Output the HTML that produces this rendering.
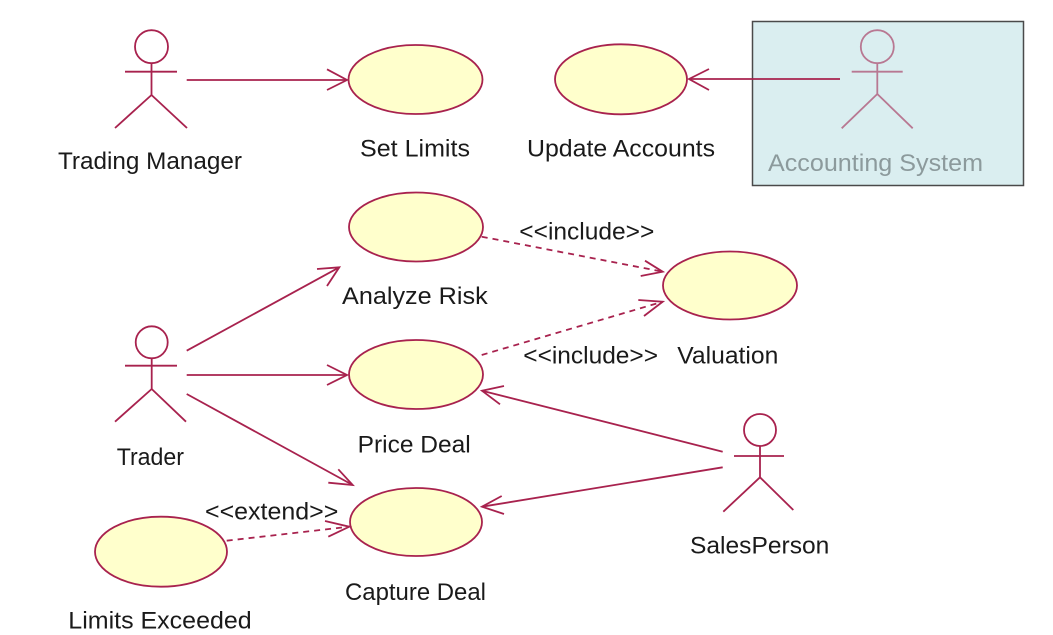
<!DOCTYPE html>
<html><head><meta charset="utf-8"><style>
html,body{margin:0;padding:0;background:#fff;}
svg{display:block;}
text{font-family:"Liberation Sans",Arial,sans-serif;font-size:24px;fill:#1a1a1a;}
</style></head><body>
<svg width="1053" height="635" viewBox="0 0 1053 635" xmlns="http://www.w3.org/2000/svg">
<rect x="0" y="0" width="1053" height="635" fill="#fff"/>
<!-- Accounting System box -->
<rect x="752.5" y="21.5" width="271" height="164" fill="#daeef0" stroke="#4a4a4a" stroke-width="1.5"/>

<g fill="#ffffcc" stroke="#a8224e" stroke-width="1.8">
<ellipse cx="415.5" cy="79.5" rx="67" ry="34.5"/>
<ellipse cx="621" cy="79.3" rx="66" ry="35"/>
<ellipse cx="416" cy="227" rx="67" ry="34.5"/>
<ellipse cx="730" cy="285.5" rx="67" ry="34"/>
<ellipse cx="416" cy="374.5" rx="67" ry="34.5"/>
<ellipse cx="416" cy="522" rx="66" ry="34"/>
<ellipse cx="161" cy="551.7" rx="66" ry="35"/>
</g>

<!-- actors -->
<g fill="none" stroke="#a8224e" stroke-width="1.8">
<!-- Trading Manager -->
<circle cx="151.5" cy="46.7" r="16.5"/>
<line x1="125" y1="71.7" x2="177" y2="71.7"/>
<line x1="151.5" y1="63" x2="151.5" y2="95"/>
<line x1="151.5" y1="95" x2="115" y2="128"/>
<line x1="151.5" y1="95" x2="187" y2="128"/>
<!-- Trader -->
<circle cx="151.7" cy="342.3" r="16"/>
<line x1="125" y1="365.7" x2="177" y2="365.7"/>
<line x1="151.7" y1="358" x2="151.7" y2="389"/>
<line x1="151.7" y1="389" x2="115" y2="421.7"/>
<line x1="151.7" y1="389" x2="186" y2="421.7"/>
<!-- SalesPerson -->
<circle cx="760" cy="430" r="16"/>
<line x1="734" y1="456" x2="784" y2="456"/>
<line x1="760" y1="446" x2="760" y2="477.3"/>
<line x1="760" y1="477.3" x2="723.3" y2="511.7"/>
<line x1="760" y1="477.3" x2="793.3" y2="510"/>
</g>
<!-- Accounting System actor (faded) -->
<g fill="none" stroke="#b87892" stroke-width="1.8">
<circle cx="877.3" cy="46.7" r="16.5"/>
<line x1="851.7" y1="71.7" x2="902.7" y2="71.7"/>
<line x1="877.3" y1="63" x2="877.3" y2="94"/>
<line x1="877.3" y1="94" x2="841.7" y2="128.3"/>
<line x1="877.3" y1="94" x2="912.7" y2="128.3"/>
</g>

<!-- solid associations -->
<g fill="none" stroke="#a8224e" stroke-width="1.8">
<line x1="186.7" y1="80" x2="347" y2="80"/>
<polyline points="327,69.3 347,80 327,90"/>
<line x1="840" y1="79" x2="689" y2="79"/>
<polyline points="709,69 689,79 709,90"/>
<line x1="186.7" y1="350.7" x2="339.3" y2="267.3"/>
<polyline points="317,269 339.3,267.3 327,286"/>
<line x1="186.7" y1="375" x2="347" y2="375"/>
<polyline points="327,365 347,375 327,385"/>
<line x1="186.7" y1="394" x2="352.7" y2="485"/>
<polyline points="338.3,469.3 352.7,485 328.3,482.7"/>
<line x1="722.7" y1="451.7" x2="482" y2="390.7"/>
<polyline points="504,386 482,390.7 500,404.3"/>
<line x1="722.7" y1="467.3" x2="482" y2="506.7"/>
<polyline points="501.7,496 482,506.7 504,514"/>
</g>

<!-- dashed dependencies -->
<g fill="none" stroke="#a8224e" stroke-width="1.8">
<line x1="481.7" y1="236.7" x2="662.7" y2="271.7" stroke-dasharray="6,5"/>
<polyline points="645,260.7 662.7,271.7 640.7,276"/>
<line x1="481.7" y1="355" x2="662.7" y2="301.7" stroke-dasharray="6,5"/>
<polyline points="638.3,300 662.7,301.7 644,316"/>
<line x1="226.7" y1="540.7" x2="349.3" y2="526.7" stroke-dasharray="6,5"/>
<polyline points="325,521 349.3,526.7 328.3,536.7"/>
</g>

<!-- labels -->
<text x="58" y="169" textLength="184" lengthAdjust="spacingAndGlyphs">Trading Manager</text>
<text x="360" y="156.7" textLength="110" lengthAdjust="spacingAndGlyphs">Set Limits</text>
<text x="527" y="156.7" textLength="188" lengthAdjust="spacingAndGlyphs">Update Accounts</text>
<text x="768" y="171" textLength="215" lengthAdjust="spacingAndGlyphs" style="fill:#8c9a9c">Accounting System</text>
<text x="519.3" y="239.3" textLength="135" lengthAdjust="spacingAndGlyphs">&lt;&lt;include&gt;&gt;</text>
<text x="342" y="304" textLength="145.7" lengthAdjust="spacingAndGlyphs">Analyze Risk</text>
<text x="523.3" y="363.3" textLength="134.7" lengthAdjust="spacingAndGlyphs">&lt;&lt;include&gt;&gt;</text>
<text x="677.3" y="363.3" textLength="101" lengthAdjust="spacingAndGlyphs">Valuation</text>
<text x="357.7" y="452.7" textLength="113" lengthAdjust="spacingAndGlyphs">Price Deal</text>
<text x="116.7" y="465" textLength="67.3" lengthAdjust="spacingAndGlyphs">Trader</text>
<text x="205" y="519.3" textLength="133.3" lengthAdjust="spacingAndGlyphs">&lt;&lt;extend&gt;&gt;</text>
<text x="690" y="553.3" textLength="139.3" lengthAdjust="spacingAndGlyphs">SalesPerson</text>
<text x="345" y="600" textLength="141" lengthAdjust="spacingAndGlyphs">Capture Deal</text>
<text x="68.3" y="628.3" textLength="183.4" lengthAdjust="spacingAndGlyphs">Limits Exceeded</text>
</svg>
</body></html>
